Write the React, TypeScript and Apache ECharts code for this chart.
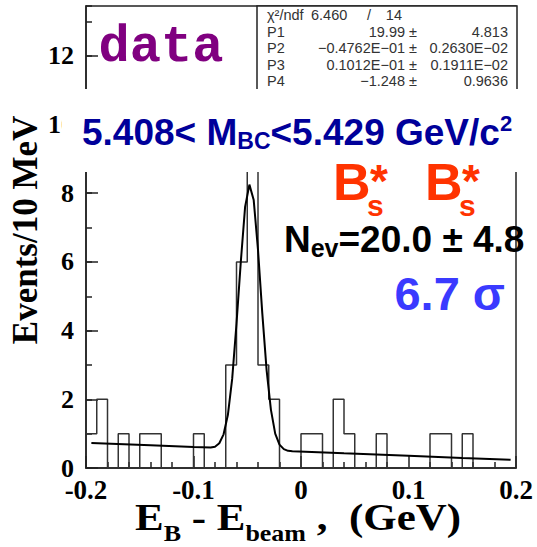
import React, { useEffect, useRef } from "react";
import * as echarts from "echarts";

// Histogram: 40 bins of 10 MeV from -0.2 to 0.2 GeV
const binLow = -0.2;
const binWidth = 0.01;
const counts = [
  1, 2, 0, 1, 0, 1, 1, 0, 0, 0,
  1, 0, 0, 3, 6, 9, 3, 2, 0, 0,
  1, 1, 0, 2, 1, 0, 0, 1, 0, 0,
  0, 0, 1, 1, 0, 1, 0, 0, 0, 0,
];

// Fit curve
const fitX = [-0.195, -0.14, -0.1, -0.084, -0.08, -0.076, -0.072, -0.068, -0.064, -0.06, -0.056, -0.052, -0.048, -0.044, -0.04, -0.036, -0.032, -0.028, -0.024, -0.02, -0.016, -0.012, -0.008, 0.04, 0.1, 0.15, 0.195];
const fitY = [0.73, 0.66, 0.61, 0.6, 0.62, 0.72, 0.98, 1.55, 2.6, 4.2, 6.0, 7.6, 8.25, 7.8, 6.35, 4.5, 2.85, 1.7, 1.0, 0.68, 0.55, 0.5, 0.49, 0.43, 0.36, 0.29, 0.24];

const xTickLabels = ["-0.2", "-0.1", "0", "0.1", "0.2"];
const yTickLabels = ["0", "2", "4", "6", "8", "10", "12"];

const statsNames = ["P1", "P2", "P3", "P4"];
const statsValues = ["19.99 ±", "\u22120.4762E\u221201 ±", "0.1012E\u221201 ±", "\u22121.248 ±"];
const statsErrors = ["4.813", "0.2630E\u221202", "0.1911E\u221202", "0.9636"];

const SERIF = "Liberation Serif";
const SANS = "Liberation Sans";

export default function App() {
  const ref = useRef<HTMLDivElement>(null);
  useEffect(() => {
    if (!ref.current) return;
    const chart = echarts.init(ref.current, null, { renderer: "svg" });

    const histData: number[][] = counts.map((c, i) => [binLow + i * binWidth, c]);
    histData.push([binLow + counts.length * binWidth, counts[counts.length - 1]]);
    const fitData = fitX.map((x, i) => [x, fitY[i]]);

    const axisColor = "#222";
    const statsStyle = { fontFamily: SANS, fontSize: 14.5, fill: "#333" };
    const statsY0 = 15;
    const statsDY = 16.5;
    const red = "#ff3300";

    const graphics: any[] = [
      // white label pave covering part of the frame
      { type: "rect", z: 100, shape: { x: 62, y: 89, width: 475, height: 83 }, style: { fill: "#fff" } },
      // stats box
      { type: "rect", z: 90, shape: { x: 257, y: 6, width: 260, height: 90 }, style: { fill: "#fff", stroke: axisColor, lineWidth: 1.5 } },
      { type: "text", z: 95, x: 267, y: statsY0, style: { ...statsStyle, text: "\u03c7\u00b2/ndf", textVerticalAlign: "middle" } },
      { type: "text", z: 95, x: 311, y: statsY0, style: { ...statsStyle, text: "6.460", textVerticalAlign: "middle" } },
      { type: "text", z: 95, x: 369, y: statsY0, style: { ...statsStyle, text: "/", textAlign: "center", textVerticalAlign: "middle" } },
      { type: "text", z: 95, x: 402, y: statsY0, style: { ...statsStyle, text: "14", textAlign: "right", textVerticalAlign: "middle" } },
    ];
    statsNames.forEach((n, i) => {
      const y = statsY0 + statsDY * (i + 1);
      graphics.push({ type: "text", z: 95, x: 267, y, style: { ...statsStyle, text: n, textVerticalAlign: "middle" } });
      graphics.push({ type: "text", z: 95, x: 417, y, style: { ...statsStyle, text: statsValues[i], textAlign: "right", textVerticalAlign: "middle" } });
      graphics.push({ type: "text", z: 95, x: 508, y, style: { ...statsStyle, text: statsErrors[i], textAlign: "right", textVerticalAlign: "middle" } });
    });

    const bStyle = { fontFamily: SANS, fontWeight: "bold", fill: red, textVerticalAlign: "middle" };
    [333, 425].forEach((bx) => {
      graphics.push(
        { type: "text", z: 110, x: bx, y: 182, style: { ...bStyle, text: "B", fontSize: 52 } },
        { type: "text", z: 111, x: bx + 34, y: 205, style: { ...bStyle, text: "s", fontSize: 30 } },
        { type: "text", z: 111, x: bx + 37, y: 181, style: { ...bStyle, text: "*", fontSize: 46 } }
      );
    });

    graphics.push(
      {
        type: "text", z: 110, x: 161, y: 47,
        style: { text: "data", fontFamily: "Liberation Mono", fontWeight: "bold", fontSize: 52, fill: "#800080", textAlign: "center", textVerticalAlign: "middle" },
      },
      {
        type: "text", z: 110, x: 82, y: 132,
        style: {
          text: "{a|5.408< M}{s|BC}{a|<5.429 GeV/c}{p|2}",
          textVerticalAlign: "middle",
          rich: {
            a: { fontFamily: SANS, fontWeight: "bold", fontSize: 37, fill: "#00009a", lineHeight: 40 },
            s: { fontFamily: SANS, fontWeight: "bold", fontSize: 23, fill: "#00009a", lineHeight: 18, verticalAlign: "bottom" },
            p: { fontFamily: SANS, fontWeight: "bold", fontSize: 22, fill: "#00009a", lineHeight: 18, verticalAlign: "top" },
          },
        },
      },
      {
        type: "text", z: 110, x: 284, y: 239,
        style: {
          text: "{a|N}{s|ev}{a|=20.0 ± 4.8}",
          textVerticalAlign: "middle",
          rich: {
            a: { fontFamily: SANS, fontWeight: "bold", fontSize: 37, fill: "#000", lineHeight: 42 },
            s: { fontFamily: SANS, fontWeight: "bold", fontSize: 25, fill: "#000", lineHeight: 18, verticalAlign: "bottom" },
          },
        },
      },
      {
        type: "text", z: 110, x: 505, y: 293,
        style: { text: "6.7 \u03c3", fontFamily: SANS, fontWeight: "bold", fontSize: 47, fill: "#3a3aff", textAlign: "right", textVerticalAlign: "middle" },
      },
      {
        type: "text", z: 110, x: 25, y: 230, rotation: Math.PI / 2,
        style: { text: "Events/10 MeV", fontFamily: SERIF, fontWeight: "bold", fontSize: 35, fill: "#000", textAlign: "center", textVerticalAlign: "middle" },
      },
      {
        type: "text", z: 110, x: 298, y: 517, scaleX: 1.13,
        style: {
          text: "{a|E}{s|B}{a| - E}{s|beam}{a| ,  (GeV)}",
          textAlign: "center",
          textVerticalAlign: "middle",
          rich: {
            a: { fontFamily: SERIF, fontWeight: "bold", fontSize: 38, fill: "#000", lineHeight: 56 },
            s: { fontFamily: SERIF, fontWeight: "bold", fontSize: 23, fill: "#000", lineHeight: 16, verticalAlign: "bottom" },
          },
        },
      }
    );

    const tickStyle = { color: axisColor, width: 1.5 };

    chart.setOption({
      animation: false,
      grid: { left: 86, right: 21, top: 6, bottom: 79, show: true, borderColor: axisColor, borderWidth: 1.5, backgroundColor: "transparent" },
      xAxis: {
        type: "value", min: -0.2, max: 0.2, interval: 0.1,
        axisLine: { show: true, onZero: false, lineStyle: tickStyle },
        axisTick: { show: true, inside: true, length: 12, lineStyle: tickStyle },
        minorTick: { show: true, splitNumber: 5, length: 6, lineStyle: tickStyle },
        splitLine: { show: false },
        axisLabel: {
          margin: 8, fontFamily: SERIF, fontWeight: "bold", fontSize: 27, color: "#000",
          formatter: (v: number) => xTickLabels[Math.round((v - binLow) / 0.1)] ?? "",
        },
      },
      yAxis: [
        {
          type: "value", min: 0, max: 13.45, interval: 2,
          axisLine: { show: true, onZero: false, lineStyle: tickStyle },
          axisTick: { show: true, inside: true, length: 12, lineStyle: tickStyle },
          splitLine: { show: false },
          axisLabel: {
            showMaxLabel: false, margin: 12, fontFamily: SERIF, fontWeight: "bold", fontSize: 26, color: "#000",
            formatter: (v: number) => (Math.abs(v / 2 - Math.round(v / 2)) < 1e-6 ? yTickLabels[Math.round(v / 2)] ?? "" : ""),
          },
        },
        {
          type: "value", min: 0, max: 13.45, interval: 1, position: "left",
          axisLine: { show: false, onZero: false },
          axisTick: { show: true, inside: true, length: 6, lineStyle: tickStyle },
          splitLine: { show: false },
          axisLabel: { show: false },
        },
      ],
      series: [
        {
          type: "line", step: "end", data: histData, symbol: "none", yAxisIndex: 0,
          lineStyle: { color: "#333", width: 1.5 }, z: 3,
        },
        {
          type: "line", data: fitData, symbol: "none", yAxisIndex: 0,
          lineStyle: { color: "#000", width: 2 }, z: 4,
        },
      ],
      graphic: graphics,
    });
    return () => chart.dispose();
  }, []);
  return <div ref={ref} style={{ width: 537, height: 547, position: "absolute", left: 0, top: 0 }} />;
}
